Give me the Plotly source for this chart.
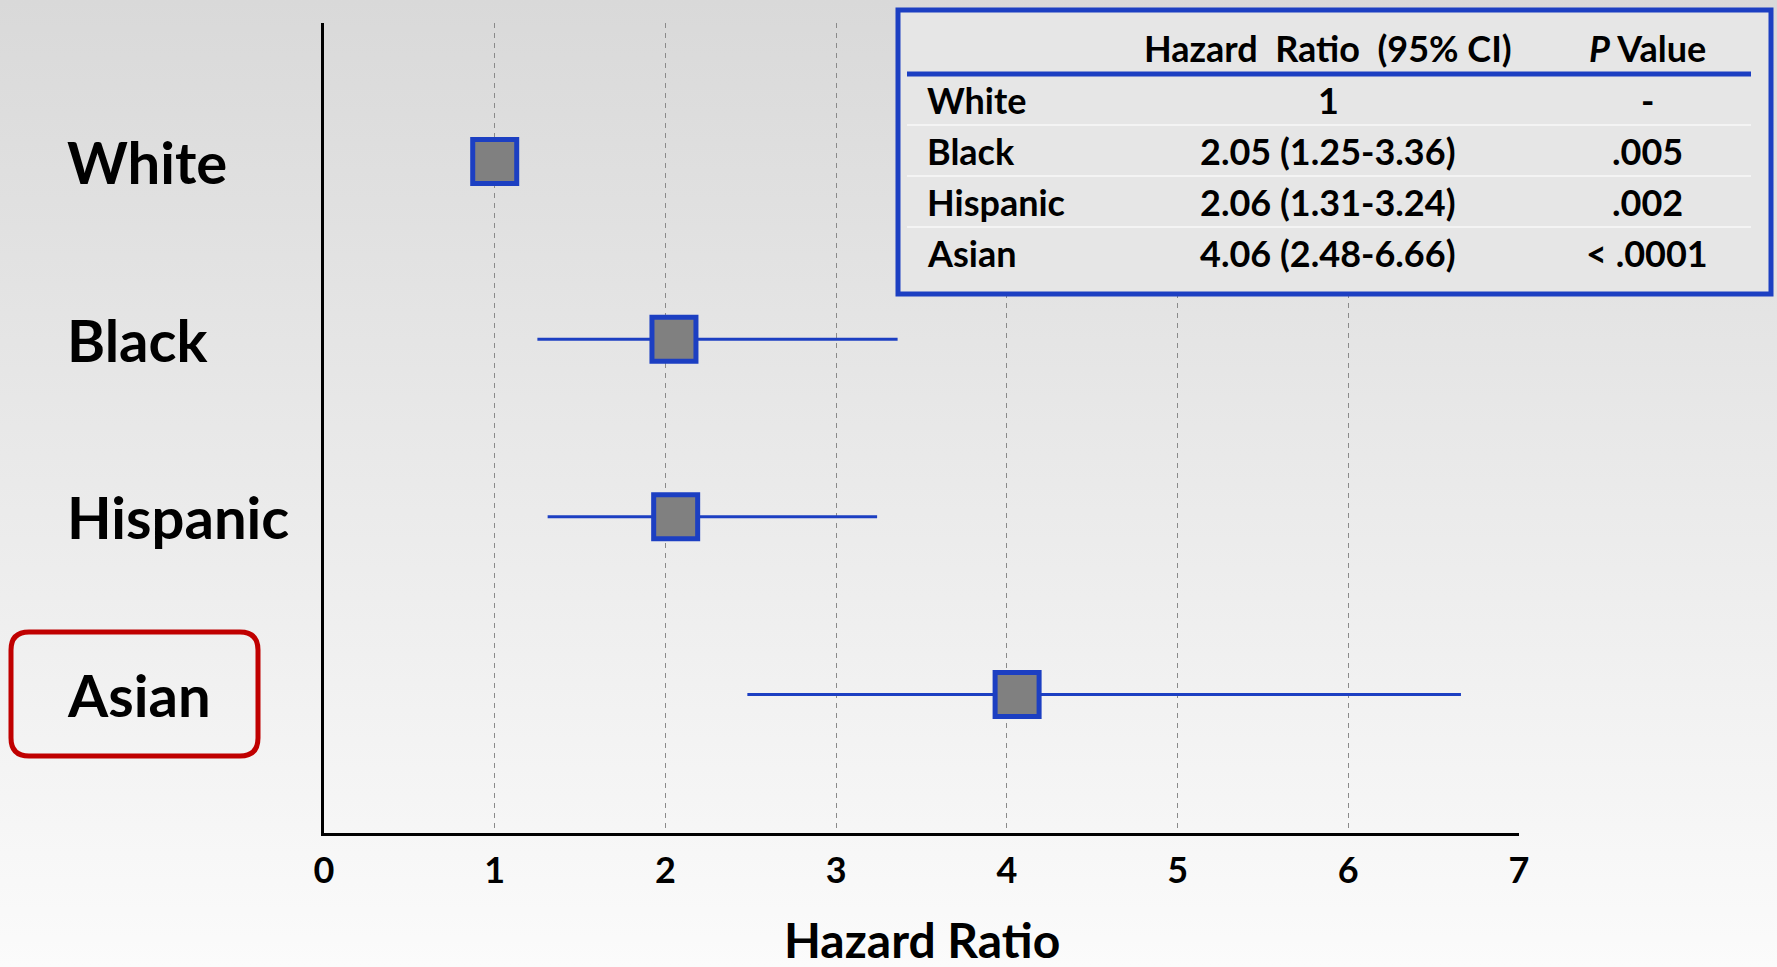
import base64
import plotly.graph_objects as go

# ---------------- data ----------------
groups = ["White", "Black", "Hispanic", "Asian"]
group_pos = [4, 3, 2, 1]
hazard_ratio = [1.0, 2.05, 2.06, 4.06]
ci_low = [1.0, 1.25, 1.31, 2.48]
ci_high = [1.0, 3.36, 3.24, 6.66]
p_values = ["-", ".005", ".002", "< .0001"]
hr_labels = ["1", "2.05 (1.25-3.36)", "2.06 (1.31-3.24)", "4.06 (2.48-6.66)"]
x_ticks = [0, 1, 2, 3, 4, 5, 6, 7]
highlight = "Asian"

# ---------------- geometry helpers ----------------
W_PAGE, H_PAGE = 1777, 967
L, R, T, B = 324, 1519, 23, 833
PW, PH = R - L, B - T


def px(x):
    return (x - L) / PW


def py(y):
    return (B - y) / PH


FONT = "Lato"
BLUE = "#1c3fc2"

fig = go.Figure()

fig.add_trace(go.Scatter(
    x=hazard_ratio,
    y=group_pos,
    mode="markers",
    marker=dict(symbol="square", size=44, color="#808080",
                line=dict(color=BLUE, width=5)),
    error_x=dict(type="data", symmetric=False,
                 array=[h - v for h, v in zip(ci_high, hazard_ratio)],
                 arrayminus=[v - lo for v, lo in zip(hazard_ratio, ci_low)],
                 color=BLUE, thickness=3, width=0),
    showlegend=False,
    hoverinfo="skip",
))

# background gradient
svg = ('<svg xmlns="http://www.w3.org/2000/svg" width="100" height="100" preserveAspectRatio="none">'
       '<defs><linearGradient id="g" x1="0" y1="0" x2="0" y2="1">'
       '<stop offset="0" stop-color="#d9d9d9"/><stop offset="1" stop-color="#fbfbfb"/>'
       '</linearGradient></defs><rect width="100" height="100" fill="url(#g)"/></svg>')
src = "data:image/svg+xml;base64," + base64.b64encode(svg.encode()).decode()

shapes = []
annotations = []

# y category labels
for g, yv in zip(groups, group_pos):
    annotations.append(dict(x=px(65), y=yv, xref="paper", yref="y", text=g,
                            showarrow=False, xanchor="left", yanchor="middle",
                            font=dict(family=FONT, size=58, color="black", weight="bold")))

# highlight box around Asian label (rounded)
x0, x1, y0, y1, r = 11, 258, 632, 756, 18
path = (f"M {px(x0 + r)} {py(y0)} L {px(x1 - r)} {py(y0)} Q {px(x1)} {py(y0)} {px(x1)} {py(y0 + r)} "
        f"L {px(x1)} {py(y1 - r)} Q {px(x1)} {py(y1)} {px(x1 - r)} {py(y1)} "
        f"L {px(x0 + r)} {py(y1)} Q {px(x0)} {py(y1)} {px(x0)} {py(y1 - r)} "
        f"L {px(x0)} {py(y0 + r)} Q {px(x0)} {py(y0)} {px(x0 + r)} {py(y0)} Z")
shapes.append(dict(type="path", xref="paper", yref="paper", path=path,
                   line=dict(color="#c00000", width=5), layer="above"))

# x axis title
annotations.append(dict(x=0.5, y=py(939), xref="paper", yref="paper", text="Hazard Ratio",
                        showarrow=False, xanchor="center", yanchor="middle",
                        font=dict(family=FONT, size=48, color="black", weight="bold")))

# table box
tx0, tx1, ty0, ty1 = 898, 1771, 10, 294
shapes.append(dict(type="rect", xref="paper", yref="paper",
                   x0=px(tx0), x1=px(tx1), y0=py(ty0), y1=py(ty1),
                   fillcolor="#e6e6e6", line=dict(color=BLUE, width=5), layer="above"))
# row separators
for sy in [125, 176, 227]:
    shapes.append(dict(type="line", xref="paper", yref="paper",
                       x0=px(907), x1=px(1751), y0=py(sy), y1=py(sy),
                       line=dict(color="#f4f4f4", width=2), layer="above"))
# header line
shapes.append(dict(type="line", xref="paper", yref="paper",
                   x0=px(907), x1=px(1751), y0=py(74), y1=py(74),
                   line=dict(color=BLUE, width=5), layer="above"))

TFONT = dict(family=FONT, size=36, color="black", weight="bold")
col_name, col_hr, col_p = 925, 1328, 1647
annotations.append(dict(x=px(col_hr), y=py(48), xref="paper", yref="paper",
                        text="Hazard  Ratio  (95% CI)", showarrow=False,
                        xanchor="center", yanchor="middle", font=TFONT))
annotations.append(dict(x=px(col_p), y=py(48), xref="paper", yref="paper",
                        text="<i>P</i> Value", showarrow=False,
                        xanchor="center", yanchor="middle", font=TFONT))
for g, hl, pv, ry in zip(groups, hr_labels, p_values, [100, 151, 202, 253]):
    annotations.append(dict(x=px(col_name), y=py(ry), xref="paper", yref="paper", text=g,
                            showarrow=False, xanchor="left", yanchor="middle", font=TFONT))
    annotations.append(dict(x=px(col_hr), y=py(ry), xref="paper", yref="paper", text=hl,
                            showarrow=False, xanchor="center", yanchor="middle", font=TFONT))
    annotations.append(dict(x=px(col_p), y=py(ry), xref="paper", yref="paper", text=pv,
                            showarrow=False, xanchor="center", yanchor="middle", font=TFONT))

fig.update_layout(
    width=W_PAGE, height=H_PAGE,
    margin=dict(l=L, r=W_PAGE - R, t=T, b=H_PAGE - B, autoexpand=False),
    paper_bgcolor="#ececec",
    plot_bgcolor="rgba(0,0,0,0)",
    images=[dict(source=src, xref="paper", yref="paper",
                 x=px(0), y=py(0), sizex=W_PAGE / PW, sizey=H_PAGE / PH,
                 xanchor="left", yanchor="top", sizing="stretch", layer="below")],
    shapes=shapes,
    annotations=annotations,
    xaxis=dict(range=[0, 7], tickvals=x_ticks, ticktext=[str(t) for t in x_ticks],
               showline=True, linecolor="black", linewidth=3,
               showgrid=True, gridcolor="#8a8a8a", gridwidth=1.2, griddash="5px,5px",
               zeroline=False, ticks="outside", ticklen=4, tickcolor="rgba(0,0,0,0)",
               tickfont=dict(family=FONT, size=36, color="black", weight="bold"),
               fixedrange=True),
    yaxis=dict(range=[0.22, 4.78], showticklabels=False, showgrid=False,
               showline=True, linecolor="black", linewidth=3, zeroline=False,
               fixedrange=True),
)

fig.write_html("out.html")
